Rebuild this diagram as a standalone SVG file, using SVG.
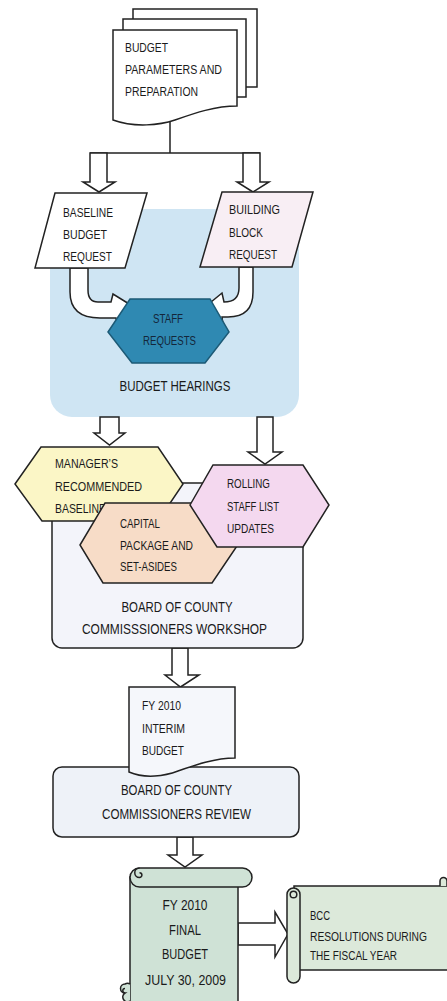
<svg xmlns="http://www.w3.org/2000/svg" width="447" height="1001" viewBox="0 0 447 1001">
  <style>
    .ln { stroke:#222222; stroke-width:1.5; fill:none; }
    .sh { stroke:#222222; stroke-width:1.5; stroke-linejoin:miter; }
    .white { fill:#ffffff; }
    text { font-family:"Liberation Sans", Arial, sans-serif; fill:#1a1a1a; }
    .t { font-size:12.5px; }
    .tl { font-size:14.5px; }
    .tc { text-anchor:middle; }
  </style>

  <rect width="447" height="1001" fill="#ffffff"/>

  <!-- Multi-document: budget parameters -->
  <g id="budget-parameters">
    <rect class="sh white" x="133" y="9" width="124" height="78"/>
    <rect class="sh white" x="123" y="19" width="123" height="78"/>
    <path class="sh white" d="M113,30 H237 V106 C215,106 195,113 175,120 C160,125 135,128 113,120 Z"/>
    <text class="t" x="125" y="52" textLength="43" lengthAdjust="spacingAndGlyphs">BUDGET</text>
    <text class="t" x="125" y="74" textLength="97" lengthAdjust="spacingAndGlyphs">PARAMETERS AND</text>
    <text class="t" x="125" y="96" textLength="73" lengthAdjust="spacingAndGlyphs">PREPARATION</text>
  </g>

  <!-- Budget hearings backdrop -->
  <g id="budget-hearings">
    <rect x="50" y="209" width="249" height="208" rx="22" fill="#cfe5f3"/>
    <text class="tl tc" x="175" y="391" textLength="111" lengthAdjust="spacingAndGlyphs">BUDGET HEARINGS</text>
  </g>

  <!-- Connectors -->
  <g id="connectors">
    <path class="ln" d="M170,122 V153 M90,153 H260"/>
    <!-- split arrows below the parameters document -->
    <polygon class="sh white" points="90,153 107,153 107,182 115,182 99,192 83,182 90,182"/>
    <polygon class="sh white" points="243,153 260,153 260,182 269,182 253,192 237,182 243,182"/>
    <!-- curved arrows into staff requests -->
    <path class="sh white" d="M70,268 V292 Q70,318 100,318 H116 L117,324 L134,307 L113,294 L111,302 H98 Q88,302 88,290 V268 Z"/>
    <path class="sh white" d="M253,267 V292 Q253,317 228,317 H222 L223,325 L205,307 L222,293 L224,302 Q239,302 239,288 V267 Z"/>
    <!-- out of budget hearings -->
    <polygon class="sh white" points="100,417 119,417 119,433 125,433 109.5,445 94,433 100,433"/>
    <polygon class="sh white" points="257,417 273,417 273,452 282,452 265,464 248,452 257,452"/>
    <!-- workshop to interim budget -->
    <polygon class="sh white" points="172,648 188,648 188,675 199,675 180.5,687 165,675 172,675"/>
    <!-- review to final budget -->
    <polygon class="sh white" points="177,837 193,837 193,855 202,855 185,867 168,855 177,855"/>
    <!-- final budget to resolutions -->
    <polygon class="sh white" points="238,923 275,923 275,912 288,934 275,957 275,945 238,945"/>
  </g>

  <g id="baseline-budget-request">
    <polygon class="sh white" points="55,193 147,193 125,268 35,268"/>
    <text class="t" x="63" y="217" textLength="50" lengthAdjust="spacingAndGlyphs">BASELINE</text>
    <text class="t" x="63" y="239" textLength="44" lengthAdjust="spacingAndGlyphs">BUDGET</text>
    <text class="t" x="63" y="261" textLength="49" lengthAdjust="spacingAndGlyphs">REQUEST</text>
  </g>

  <g id="building-block-request">
    <polygon class="sh" fill="#f8eef4" points="222,192 313,192 292,267 200,267"/>
    <text class="t" x="229" y="214" textLength="51" lengthAdjust="spacingAndGlyphs">BUILDING</text>
    <text class="t" x="229" y="237" textLength="34" lengthAdjust="spacingAndGlyphs">BLOCK</text>
    <text class="t" x="229" y="259" textLength="48" lengthAdjust="spacingAndGlyphs">REQUEST</text>
  </g>

  <g id="staff-requests">
    <polygon fill="#2f89b2" stroke="#1c5a76" stroke-width="1.5" points="108,332 130,299 210,299 229,332 205,363 132,363"/>
    <text class="t tc" x="168" y="323" textLength="30" lengthAdjust="spacingAndGlyphs" style="fill:#14263a">STAFF</text>
    <text class="t tc" x="169.5" y="345" textLength="53" lengthAdjust="spacingAndGlyphs" style="fill:#14263a">REQUESTS</text>
  </g>

  <g id="commissioners-workshop">
    <rect class="sh" fill="#f3f4fa" x="52" y="483" width="251" height="165" rx="10"/>
    <text class="tl tc" x="177" y="612" textLength="111" lengthAdjust="spacingAndGlyphs">BOARD OF COUNTY</text>
    <text class="tl tc" x="174.5" y="634" textLength="185" lengthAdjust="spacingAndGlyphs">COMMISSSIONERS WORKSHOP</text>
  </g>

  <g id="managers-recommended-baseline">
    <polygon class="sh" fill="#fbf6c6" points="15,484 41,447 158,447 183,484 158,521 42,521"/>
    <text class="t" x="55" y="468" textLength="63" lengthAdjust="spacingAndGlyphs">MANAGER’S</text>
    <text class="t" x="55" y="491" textLength="87" lengthAdjust="spacingAndGlyphs">RECOMMENDED</text>
    <text class="t" x="55" y="513" textLength="51" lengthAdjust="spacingAndGlyphs">BASELINE</text>
  </g>

  <g id="capital-package">
    <polygon class="sh" fill="#f7dcc7" points="80,545 105,503 213,503 237,546 212,583 103,583"/>
    <text class="t" x="120" y="528" textLength="40" lengthAdjust="spacingAndGlyphs">CAPITAL</text>
    <text class="t" x="120" y="550" textLength="73" lengthAdjust="spacingAndGlyphs">PACKAGE AND</text>
    <text class="t" x="120" y="571" textLength="57" lengthAdjust="spacingAndGlyphs">SET-ASIDES</text>
  </g>

  <g id="rolling-staff-list">
    <polygon class="sh" fill="#f4d8ef" points="190,505 213,465 303,465 329,505 303,547 217,547"/>
    <text class="t" x="227" y="488" textLength="43" lengthAdjust="spacingAndGlyphs">ROLLING</text>
    <text class="t" x="227" y="511" textLength="52" lengthAdjust="spacingAndGlyphs">STAFF LIST</text>
    <text class="t" x="227" y="533" textLength="47" lengthAdjust="spacingAndGlyphs">UPDATES</text>
  </g>

  <g id="commissioners-review">
    <rect class="sh" fill="#eef2f8" x="53" y="767" width="246" height="70" rx="9"/>
    <text class="tl tc" x="176.5" y="795" textLength="111" lengthAdjust="spacingAndGlyphs">BOARD OF COUNTY</text>
    <text class="tl tc" x="176.5" y="819" textLength="149" lengthAdjust="spacingAndGlyphs">COMMISSIONERS REVIEW</text>
  </g>

  <g id="interim-budget">
    <path class="sh" fill="#f5f7fb" d="M129,687 H235 V758 C215,758 195,765 178,771 C165,776 145,779 129,772 Z"/>
    <text class="t" x="142" y="710" textLength="39" lengthAdjust="spacingAndGlyphs">FY 2010</text>
    <text class="t" x="142" y="733" textLength="43" lengthAdjust="spacingAndGlyphs">INTERIM</text>
    <text class="t" x="142" y="755" textLength="42" lengthAdjust="spacingAndGlyphs">BUDGET</text>
  </g>

  <g id="final-budget">
    <rect class="sh" fill="#cfe2d6" x="130" y="877" width="108" height="140"/>
    <path class="sh" fill="#cfe2d6" d="M139.5,868 H242.5 A9.5,9.5 0 0 1 242.5,887 H139.5 A9.5,9.5 0 0 1 139.5,868 Z"/>
    <path class="ln" d="M139.5,868 A4.75,4.75 0 0 0 139.5,877.5 A2.4,2.4 0 0 0 139.5,872.7"/>
    <path class="sh" fill="#cfe2d6" d="M130,984 A5,5 0 0 0 125,984 A4.5,4.5 0 0 0 125,993 A4.5,4.5 0 0 0 130,1001"/>
    <path class="ln" d="M125,993 A2.2,2.2 0 0 1 125,988.6"/>
    <text class="tl tc" x="185" y="910" textLength="45" lengthAdjust="spacingAndGlyphs">FY 2010</text>
    <text class="tl tc" x="185" y="935" textLength="32" lengthAdjust="spacingAndGlyphs">FINAL</text>
    <text class="tl tc" x="185" y="959" textLength="46" lengthAdjust="spacingAndGlyphs">BUDGET</text>
    <text class="tl tc" x="185.5" y="985" textLength="81" lengthAdjust="spacingAndGlyphs">JULY 30, 2009</text>
  </g>

  <g id="bcc-resolutions">
    <rect class="sh" fill="#dce9da" x="294" y="886" width="170" height="84"/>
    <path class="sh" fill="#dce9da" d="M440,886 V881 A3.5,3.5 0 0 1 447,881 V886"/>
    <rect class="sh" fill="#dce9da" x="287" y="888" width="13" height="95" rx="6.5"/>
    <circle class="ln" cx="293.5" cy="894.5" r="3.3"/>
    <text class="t" x="310" y="920" textLength="20" lengthAdjust="spacingAndGlyphs">BCC</text>
    <text class="t" x="310" y="941" textLength="117" lengthAdjust="spacingAndGlyphs">RESOLUTIONS DURING</text>
    <text class="t" x="310" y="960" textLength="87" lengthAdjust="spacingAndGlyphs">THE FISCAL YEAR</text>
  </g>
</svg>
